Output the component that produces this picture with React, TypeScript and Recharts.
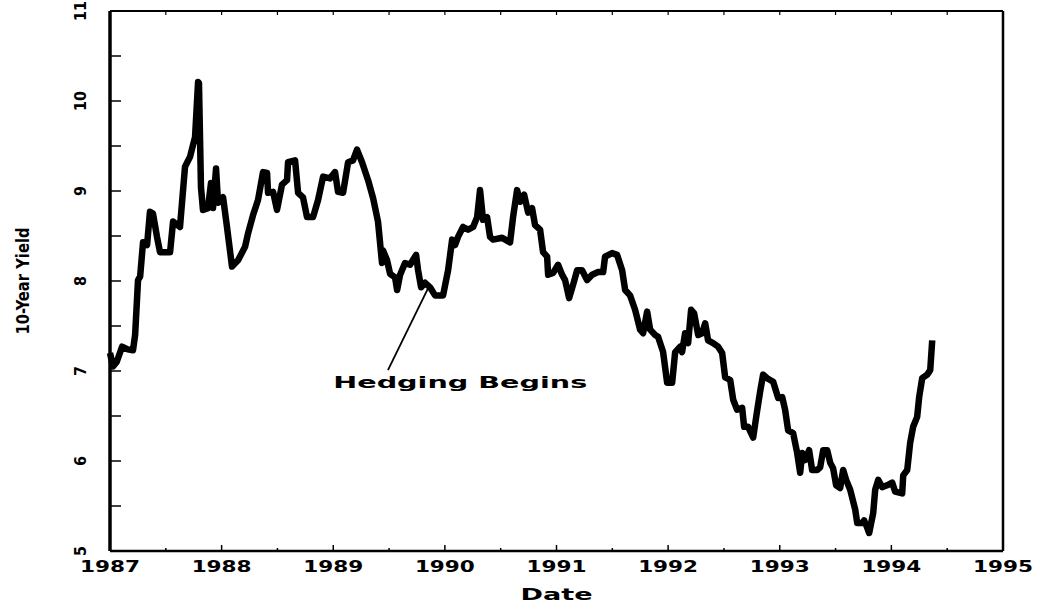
import { LineChart, Line, XAxis, YAxis, ReferenceLine, ReferenceDot } from 'recharts';

// decimal-year dates and 10-year yields
const dates = [
  1987.0, 1987.027, 1987.06, 1987.108, 1987.16, 1987.206, 1987.225, 1987.251, 1987.27, 1987.296,
  1987.332, 1987.358, 1987.385, 1987.421, 1987.448, 1987.538, 1987.565, 1987.627, 1987.672, 1987.717,
  1987.762, 1987.789, 1987.797, 1987.815, 1987.833, 1987.878, 1987.905, 1987.923, 1987.95, 1987.968,
  1988.013, 1988.048, 1988.093, 1988.147, 1988.21, 1988.237, 1988.281, 1988.326, 1988.371, 1988.407,
  1988.416, 1988.461, 1988.496, 1988.541, 1988.586, 1988.595, 1988.658, 1988.685, 1988.729, 1988.765,
  1988.819, 1988.864, 1988.909, 1988.971, 1989.016, 1989.043, 1989.088, 1989.133, 1989.177, 1989.213,
  1989.258, 1989.312, 1989.357, 1989.401, 1989.437, 1989.446, 1989.482, 1989.509, 1989.554, 1989.572,
  1989.599, 1989.643, 1989.688, 1989.742, 1989.76, 1989.787, 1989.823, 1989.867, 1989.912, 1989.984,
  1990.029, 1990.065, 1990.091, 1990.118, 1990.163, 1990.208, 1990.253, 1990.289, 1990.315, 1990.342,
  1990.378, 1990.405, 1990.432, 1990.513, 1990.584, 1990.611, 1990.647, 1990.674, 1990.71, 1990.746,
  1990.781, 1990.808, 1990.853, 1990.88, 1990.916, 1990.925, 1990.97, 1991.014, 1991.05, 1991.077,
  1991.113, 1991.149, 1991.185, 1991.229, 1991.274, 1991.319, 1991.373, 1991.418, 1991.435, 1991.498,
  1991.543, 1991.588, 1991.615, 1991.659, 1991.704, 1991.749, 1991.776, 1991.812, 1991.839, 1991.884,
  1991.91, 1991.955, 1991.991, 1992.036, 1992.063, 1992.108, 1992.125, 1992.152, 1992.179, 1992.206,
  1992.233, 1992.269, 1992.305, 1992.332, 1992.358, 1992.403, 1992.448, 1992.484, 1992.511, 1992.556,
  1992.583, 1992.618, 1992.663, 1992.681, 1992.717, 1992.762, 1992.789, 1992.824, 1992.851, 1992.887,
  1992.914, 1992.941, 1992.986, 1993.022, 1993.048, 1993.075, 1993.12, 1993.156, 1993.183, 1993.201,
  1993.228, 1993.263, 1993.29, 1993.335, 1993.362, 1993.389, 1993.425, 1993.452, 1993.478, 1993.505,
  1993.541, 1993.568, 1993.595, 1993.631, 1993.676, 1993.694, 1993.738, 1993.756, 1993.783, 1993.801,
  1993.837, 1993.855, 1993.882, 1993.918, 1993.962, 1994.007, 1994.034, 1994.097, 1994.106, 1994.142,
  1994.168, 1994.195, 1994.231, 1994.249, 1994.276, 1994.321, 1994.348, 1994.366,
];

const yields = [
  7.2, 7.05, 7.1, 7.27, 7.24, 7.23, 7.4, 8.01, 8.05, 8.43,
  8.4, 8.77, 8.75, 8.49, 8.32, 8.32, 8.66, 8.6, 9.27, 9.38,
  9.6, 10.21, 10.2, 9.04, 8.79, 8.81, 9.09, 8.81, 9.25, 8.87,
  8.93, 8.6, 8.16, 8.23, 8.38, 8.53, 8.73, 8.9, 9.21, 9.2,
  8.98, 8.99, 8.79, 9.07, 9.12, 9.32, 9.34, 8.98, 8.93, 8.71,
  8.71, 8.9, 9.16, 9.14, 9.21, 8.99, 8.98, 9.32, 9.34, 9.46,
  9.32, 9.12, 8.92, 8.66, 8.2, 8.34, 8.23, 8.08, 8.04, 7.9,
  8.07, 8.2, 8.18, 8.29, 8.12, 7.93, 7.98, 7.93, 7.84, 7.84,
  8.12, 8.46, 8.4, 8.49, 8.6, 8.57, 8.6, 8.71, 9.01, 8.68,
  8.71, 8.49, 8.46, 8.48, 8.43, 8.71, 9.01, 8.88, 8.96, 8.76,
  8.81, 8.62, 8.57, 8.32, 8.27, 8.07, 8.09, 8.18, 8.07, 8.01,
  7.81, 7.96, 8.12, 8.12, 8.01, 8.07, 8.1, 8.1, 8.27, 8.31,
  8.29, 8.12, 7.9, 7.84, 7.68, 7.46, 7.42, 7.66, 7.46, 7.4,
  7.38, 7.21, 6.87, 6.87, 7.21, 7.27, 7.21, 7.42, 7.31, 7.68,
  7.64, 7.4, 7.42, 7.53, 7.34, 7.31, 7.27, 7.2, 6.93, 6.9,
  6.68, 6.57, 6.59, 6.38, 6.38, 6.26, 6.49, 6.77, 6.96, 6.92,
  6.9, 6.88, 6.7, 6.71, 6.57, 6.34, 6.31, 6.09, 5.87, 6.09,
  6.01, 6.12, 5.9, 5.9, 5.93, 6.12, 6.12, 5.98, 5.92, 5.73,
  5.7, 5.9, 5.79, 5.68, 5.46, 5.31, 5.31, 5.34, 5.26, 5.2,
  5.42, 5.68, 5.79, 5.71, 5.73, 5.76, 5.66, 5.64, 5.84, 5.9,
  6.2, 6.38, 6.49, 6.71, 6.92, 6.96, 7.01, 7.34,
];

const yearTicks = [1987, 1987.5, 1988, 1988.5, 1989, 1989.5, 1990, 1990.5, 1991, 1991.5, 1992, 1992.5, 1993, 1993.5, 1994, 1994.5, 1995];
const yieldTicks = [5, 5.5, 6, 6.5, 7, 7.5, 8, 8.5, 9, 9.5, 10, 10.5, 11];

const annotationText = 'Hedging Begins';
const annotationPos = { x: 1989.0, y: 6.81 };
const arrowFrom = { x: 1989.49, y: 7.01 };
const arrowTo = { x: 1989.85, y: 7.92 };

const data = dates.map((d, i) => ({ date: d, yield: yields[i] }));

const wide = 'DejaVu Sans, Verdana, sans-serif';
const narrow = "'Liberation Sans Narrow', 'DejaVu Sans Condensed', 'Arial Narrow', sans-serif";

const isMajor = (v: number) => v % 1 === 0;

function BottomTick({ x, y, payload }: any) {
  const v = payload.value;
  return (
    <g>
      <line x1={x} y1={y} x2={x} y2={y - (isMajor(v) ? 6 : 3)} stroke="#000" strokeWidth={1.5} />
      {isMajor(v) && (
        <text x={x} y={y + 21} textAnchor="middle" fontFamily={wide} fontWeight="bold" fontSize={15}
          textLength={60} lengthAdjust="spacingAndGlyphs" fill="#000">
          {v}
        </text>
      )}
    </g>
  );
}

function TopTick({ x, y }: any) {
  return <line x1={x} y1={y} x2={x} y2={y + 4} stroke="#000" strokeWidth={1.2} />;
}

function LeftTick({ x, y, payload }: any) {
  const v = payload.value;
  return (
    <g>
      <line x1={x} y1={y} x2={x + 11} y2={y} stroke="#000" strokeWidth={1.5} />
      {isMajor(v) && (
        <text x={x - 30} y={y} textAnchor="middle" dominantBaseline="central" fontFamily={narrow}
          fontSize={16} fontWeight={600} fill="#000" transform={`rotate(-90, ${x - 30}, ${y})`}>
          {v}
        </text>
      )}
    </g>
  );
}

function RightTick({ x, y }: any) {
  return <line x1={x} y1={y} x2={x - 12} y2={y} stroke="#000" strokeWidth={1.5} />;
}

function DateLabel({ viewBox }: any) {
  const cx = viewBox.x + viewBox.width / 2;
  return (
    <text x={cx} y={viewBox.y + 49} textAnchor="middle" fontFamily={wide} fontWeight="bold" fontSize={16}
      textLength={72} lengthAdjust="spacingAndGlyphs" fill="#000">
      Date
    </text>
  );
}

function YieldLabel({ viewBox }: any) {
  const cx = viewBox.x + 22;
  const cy = viewBox.y + viewBox.height / 2;
  return (
    <text x={cx} y={cy} textAnchor="middle" dominantBaseline="central" fontFamily={narrow} fontSize={18}
      fontWeight={600} textLength={107} lengthAdjust="spacingAndGlyphs" fill="#000"
      transform={`rotate(-90, ${cx}, ${cy})`}>
      10-Year Yield
    </text>
  );
}

function Annotation({ cx, cy }: any) {
  return (
    <text x={cx} y={cy} fontFamily={wide} fontWeight="bold" fontSize={15}
      textLength={254} lengthAdjust="spacingAndGlyphs" fill="#000">
      {annotationText}
    </text>
  );
}

export default function App() {
  return (
    <div style={{ position: 'absolute', left: 0, top: 0, background: '#fff' }}>
      <LineChart width={1040} height={609} data={data} margin={{ top: 0, right: 0, bottom: 0, left: 0 }}>
        <XAxis dataKey="date" type="number" domain={[1987, 1995]} ticks={yearTicks} interval={0}
          tickSize={0} tickMargin={0} height={58} tick={<BottomTick />}
          axisLine={{ stroke: '#000', strokeWidth: 2.5 }} label={(p: any) => <DateLabel {...p} />} />
        <XAxis xAxisId="top" orientation="top" dataKey="date" type="number" domain={[1987, 1995]}
          ticks={yearTicks} interval={0} tickSize={0} tickMargin={0} height={11} tick={<TopTick />}
          axisLine={{ stroke: '#000', strokeWidth: 2 }} />
        <YAxis type="number" domain={[5, 11]} ticks={yieldTicks} interval={0} tickSize={0} tickMargin={0}
          width={110} tick={<LeftTick />} axisLine={{ stroke: '#000', strokeWidth: 3.5 }}
          label={(p: any) => <YieldLabel {...p} />} />
        <YAxis yAxisId="right" orientation="right" type="number" domain={[5, 11]} ticks={yieldTicks}
          interval={0} tickSize={0} tickMargin={0} width={37} tick={<RightTick />}
          axisLine={{ stroke: '#000', strokeWidth: 2.5 }} />
        <Line dataKey="yield" type="linear" stroke="#000" strokeWidth={6.5} dot={false}
          strokeLinejoin="round" isAnimationActive={false} />
        <ReferenceLine segment={[arrowFrom, arrowTo]} stroke="#000" strokeWidth={1.8} />
        <ReferenceDot x={annotationPos.x} y={annotationPos.y} r={0} shape={(p: any) => <Annotation {...p} />} />
      </LineChart>
    </div>
  );
}
